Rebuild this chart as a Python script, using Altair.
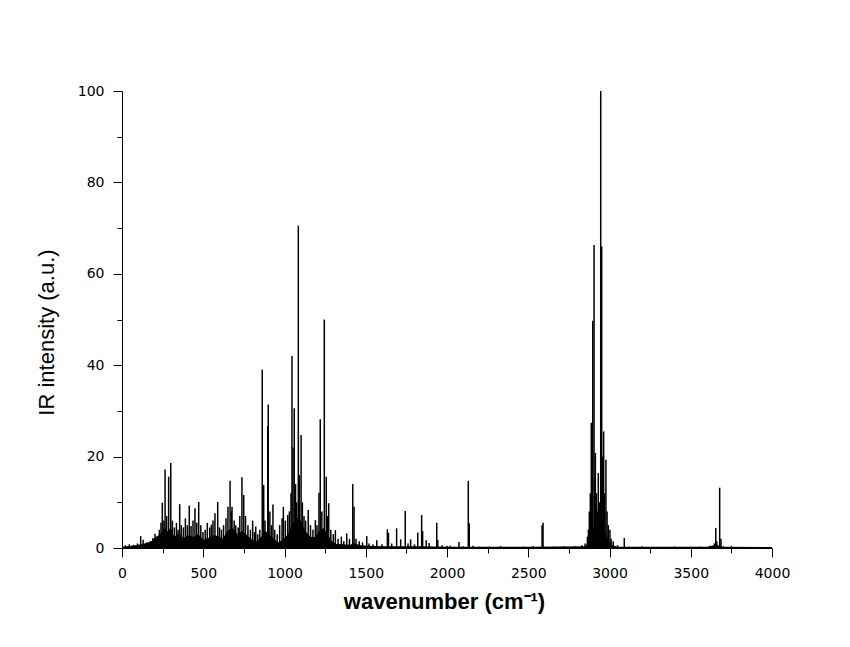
import altair as alt
import pandas as pd

# ---- data (wavenumber in cm^-1, intensity in a.u.) ----
low_wn = [20, 45, 70, 95, 115, 130, 150, 175, 190, 203, 215, 230, 240]
low_int = [0.6, 0.8, 0.7, 1.0, 2.6, 1.8, 1.2, 1.5, 2.2, 3.1, 2.5, 4.0, 5.5]

b_wn = [248, 258, 265, 275, 287, 300, 310, 322, 335, 345, 355, 365, 378, 390, 402, 414,
        425, 437, 449, 460, 472, 485, 498, 512, 525, 540, 550, 560, 572, 589, 600, 612]
b_int = [9.9, 6.0, 17.2, 7.0, 15.6, 18.6, 6.0, 4.5, 5.5, 4.0, 9.6, 5.0, 4.5, 6.5, 5.0, 9.3,
         4.8, 6.0, 8.7, 5.5, 10.1, 5.0, 3.5, 4.0, 5.5, 4.5, 5.1, 6.0, 7.6, 10.1, 4.5, 4.0]

c_wn = [625, 640, 652, 665, 672, 677, 690, 700, 715, 725, 738, 749, 760, 775, 790, 804,
        815, 823, 835, 848, 863, 868, 872, 880, 897, 900, 910, 920, 929, 940, 955, 970,
        985, 993, 1005, 1020, 1030, 1040]
c_int = [5, 6.5, 9, 14.7, 8, 9, 6, 5, 4.5, 7, 15.5, 11.6, 7, 5, 4, 6,
         3.5, 4.7, 3, 4, 39, 12, 13.8, 6, 26.7, 31.4, 8, 5, 9.5, 4, 3, 5,
         6.5, 9, 6, 7.2, 8, 12]

d_wn = [1046, 1052, 1060, 1068, 1075, 1085, 1091, 1102, 1110, 1120, 1130, 1146, 1160,
        1175, 1190, 1200, 1212, 1220, 1230, 1245, 1257, 1265, 1272, 1285, 1300, 1313,
        1330, 1350, 1365, 1383, 1400, 1420, 1428, 1440, 1460, 1480, 1506]
d_int = [42, 22, 30.6, 14, 10, 70.5, 16, 24.7, 10, 7, 6, 8.3, 5,
         4, 6.1, 5, 12.1, 28.2, 8, 50, 15.6, 7, 9.8, 4, 3, 3.9,
         2, 2.5, 1.5, 3.2, 2, 14, 9, 2, 1.5, 1.2, 2.6]

e_wn = [1520, 1545, 1568, 1600, 1633, 1640, 1660, 1690, 1715, 1743, 1760, 1776, 1800,
        1820, 1844, 1850, 1872, 1890, 1937, 1943, 1970, 2000, 2020, 2074, 2100, 2131,
        2137, 2160, 2200, 2260, 2330, 2400, 2470, 2530, 2585, 2591, 2650, 2720, 2790,
        2830, 2850]
e_int = [1, 0.8, 1.7, 0.8, 4.1, 3.3, 1, 4.3, 1.9, 8.1, 1, 1.9, 0.8,
         3.4, 7.2, 3.7, 1.7, 1.1, 5.5, 1.7, 0.6, 0.5, 0.5, 1.3, 0.4, 14.7,
         5.4, 0.5, 0.3, 0.3, 0.4, 0.3, 0.3, 0.4, 5, 5.5, 0.3, 0.4, 0.4,
         0.6, 1]

f_wn = [2864, 2870, 2876, 2882, 2888, 2893, 2897, 2905, 2910, 2913, 2920, 2925, 2931,
        2938, 2946, 2952, 2958, 2964, 2970, 2978, 2985, 2993, 3003, 3010, 3023, 3050,
        3091, 3120, 3200, 3300, 3400, 3500, 3560, 3620, 3645, 3654, 3660, 3678, 3686,
        3700, 3750, 3775]
f_int = [2.5, 4, 8, 12, 27.4, 20, 49.7, 66.3, 15, 20.8, 12, 8, 16.4,
         10, 100, 66, 20, 25.5, 12, 19.3, 8, 5, 4, 2, 1.5, 0.6,
         2.2, 0.3, 0.4, 0.3, 0.3, 0.3, 0.3, 0.5, 1, 4.4, 1.5, 13.2, 2,
         0.4, 0.4, 0.2]

# dense low-level background envelope of the spectrum
bg_wn = [0, 60, 100, 140, 180, 210, 240, 260, 280, 300, 320, 350, 380, 410, 440, 470,
         500, 530, 560, 590, 620, 650, 680, 710, 740, 770, 800, 830, 860, 880, 900, 930,
         960, 990, 1020, 1045, 1065, 1085, 1105, 1130, 1160, 1190, 1215, 1240, 1265, 1290,
         1320, 1360, 1400, 1430, 1470, 1520, 1600, 1700, 1850, 2000, 2150, 2500, 2850,
         2870, 2890, 2910, 2930, 2950, 2970, 2990, 3010, 3050, 3600, 3660, 3690, 4000]
bg_int = [0.3, 0.5, 0.7, 1.0, 1.5, 2.4, 3.2, 4.5, 3.6, 4.5, 2.4, 3.2, 2.2, 2.8, 2.4, 3.0,
          1.8, 2.2, 2.8, 2.6, 2.0, 3.8, 4.4, 3.0, 3.8, 2.8, 1.8, 1.5, 2.6, 3.8, 3.2, 2.2,
          1.2, 1.8, 3.0, 5.0, 6.2, 6.8, 5.5, 3.6, 2.4, 2.4, 3.8, 4.4, 3.0, 1.5,
          0.9, 0.8, 0.7, 1.0, 0.6, 0.5, 0.4, 0.4, 0.4, 0.3, 0.3, 0.3, 0.4,
          1.2, 3.8, 5.0, 4.4, 5.5, 3.8, 1.8, 0.7, 0.3, 0.3, 0.7, 0.3, 0.2]

x_major = [0, 500, 1000, 1500, 2000, 2500, 3000, 3500, 4000]
x_minor = [250, 750, 1250, 1750, 2250, 2750, 3250, 3750]
y_major = [0, 20, 40, 60, 80, 100]
y_minor = [10, 30, 50, 70, 90]

peaks = pd.DataFrame({
    "wn": low_wn + b_wn + c_wn + d_wn + e_wn + f_wn,
    "inten": low_int + b_int + c_int + d_int + e_int + f_int,
})
bg = pd.DataFrame({"wn": bg_wn, "inten": bg_int})

xscale = alt.Scale(domain=[0, 4000], nice=False, zero=False)
yscale = alt.Scale(domain=[0, 100], nice=False)
lab_font = "DejaVu Sans"

major_x = alt.Axis(
    orient="bottom", values=x_major, format="d", tickSize=9, labelPadding=9,
    grid=False, domainColor="black", tickColor="black", labelColor="black",
    labelFont=lab_font, labelFontSize=14, labelFlush=False, labelOverlap=False,
    title="wavenumber (cm⁻¹)", titleFont="Liberation Sans", titleFontSize=22,
    titleFontWeight="bold", titleColor="black", titleX=322, titleY=60,
    titleBaseline="alphabetic",
)
major_y = alt.Axis(
    orient="left", values=y_major, format="d", tickSize=9, labelPadding=9,
    grid=False, domainColor="black", tickColor="black", labelColor="black",
    labelFont=lab_font, labelFontSize=14, labelOverlap=False,
    title="IR intensity (a.u.)", titleFont="Liberation Sans", titleFontSize=22,
    titleFontWeight="normal", titleColor="black", titleX=-69, titleY=241,
    titleBaseline="alphabetic", titleAngle=270,
)
minor_x = alt.Axis(orient="bottom", values=x_minor, tickSize=5, labels=False,
                   domain=False, grid=False, tickColor="black", title="")
minor_y = alt.Axis(orient="left", values=y_minor, tickSize=5, labels=False,
                   domain=False, grid=False, tickColor="black", title="")

bg_layer = alt.Chart(bg).mark_area(color="black", opacity=1, interpolate="linear").encode(
    x=alt.X("wn:Q", scale=xscale, axis=minor_x),
    y=alt.Y("inten:Q", scale=yscale, axis=minor_y),
)

stick_layer = alt.Chart(peaks).mark_rule(color="black", strokeWidth=1.5).encode(
    x=alt.X("wn:Q", scale=xscale, axis=major_x),
    y=alt.Y("inten:Q", scale=yscale, axis=major_y),
    y2=alt.datum(0),
)

chart = (
    alt.layer(bg_layer, stick_layer)
    .resolve_axis(x="independent", y="independent")
    .properties(
        width=650, height=457,
        autosize=alt.AutoSizeParams(type="none"),
        padding={"left": 114, "top": 83, "right": 60, "bottom": 85},
        background="white",
    )
    .configure_view(strokeOpacity=0)
)

chart.save("out.html", embed_options={"renderer": "svg", "actions": False})
